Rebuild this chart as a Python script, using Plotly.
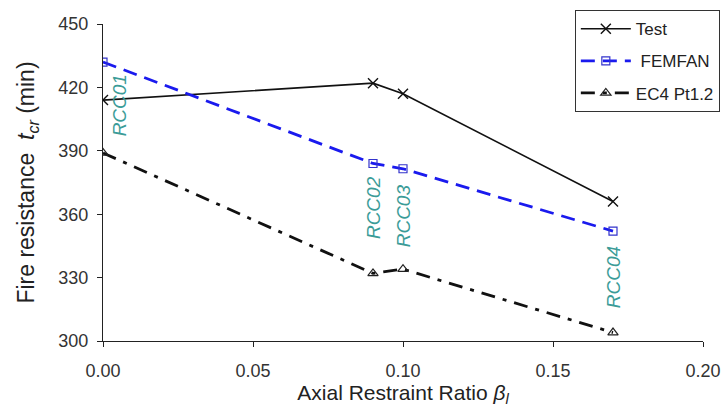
import plotly.graph_objects as go

# Axial restraint ratio for each column test
beta = [0.0, 0.09, 0.10, 0.17]
specimens = ["RCC01", "RCC02", "RCC03", "RCC04"]

# Fire resistance (min)
test_t = [414, 422, 417, 366]
femfan_t = [432, 384, 381.5, 352]
ec4_t = [389, 332, 334, 304]

# Where the specimen labels sit (vertical centre of each rotated label)
label_y = [411.5, 362.9, 359, 330.2]
label_xshift = [16, 0, 0, 0]

FONT = "Liberation Sans, Arial, sans-serif"
TEAL = "#3b9c98"

fig = go.Figure()

fig.add_trace(go.Scatter(
    x=beta, y=test_t, name="Test", mode="lines+markers",
    line=dict(color="#111111", width=1.6),
    marker=dict(symbol="x-thin-open", size=10, line=dict(color="#111111", width=1.4)),
    legendgroup="a",
))
fig.add_trace(go.Scatter(
    x=beta, y=femfan_t, name=" FEMFAN", mode="lines+markers",
    line=dict(color="#1a1aee", width=2.8, dash="14px,8px"),
    marker=dict(symbol="square-open", size=8, color="#3333cc", line=dict(color="#3333cc", width=1.2)),
    legendgroup="b",
))
fig.add_trace(go.Scatter(
    x=beta, y=ec4_t, name="EC4 Pt1.2", mode="lines+markers",
    line=dict(color="#111111", width=2.8, dash="14px,8px,4px,8px"),
    marker=dict(symbol="triangle-up-open", size=9, color="#222222", line=dict(color="#222222", width=1.2)),
    legendgroup="c",
))

for bx, name, ly, xs in zip(beta, specimens, label_y, label_xshift):
    fig.add_annotation(
        x=bx, y=ly, text=f"<i>{name}</i>", showarrow=False, textangle=-90,
        xshift=xs, font=dict(family=FONT, size=19, color=TEAL),
    )

fig.update_layout(
    width=722, height=408,
    margin=dict(l=103, r=19, t=24, b=67, autoexpand=False),
    paper_bgcolor="white", plot_bgcolor="white",
    font=dict(family=FONT, color="#222222"),
    showlegend=True,
    legend=dict(
        xref="container", yref="container",
        x=0.997, y=0.975, xanchor="right", yanchor="top",
        bordercolor="#333333", borderwidth=1, bgcolor="white",
        font=dict(family=FONT, size=17, color="#222222"),
        tracegroupgap=7, itemwidth=50,
    ),
)

fig.update_xaxes(
    range=[0, 0.2], tickvals=[0, 0.05, 0.10, 0.15, 0.20], tickformat=".2f",
    showgrid=False, zeroline=False, showline=True, linecolor="#222222", linewidth=1,
    ticks="outside", ticklen=5, tickcolor="#222222",
    tickfont=dict(family=FONT, size=18, color="#333333"), ticklabelstandoff=8,
    title=dict(text="Axial Restraint Ratio <i>β<sub>l</sub></i>",
               font=dict(family=FONT, size=21, color="#222222"), standoff=2),
)
fig.update_yaxes(
    range=[300, 450], tickvals=[300, 330, 360, 390, 420, 450],
    showgrid=False, zeroline=False, showline=True, linecolor="#222222", linewidth=1,
    ticks="outside", ticklen=5, tickcolor="#222222",
    tickfont=dict(family=FONT, size=18, color="#333333"), ticklabelstandoff=5,
    title=dict(text="Fire resistance  <i>t<sub>cr</sub></i> (min)",
               font=dict(family=FONT, size=23, color="#222222"), standoff=17),
)

fig.write_html("out.html")
